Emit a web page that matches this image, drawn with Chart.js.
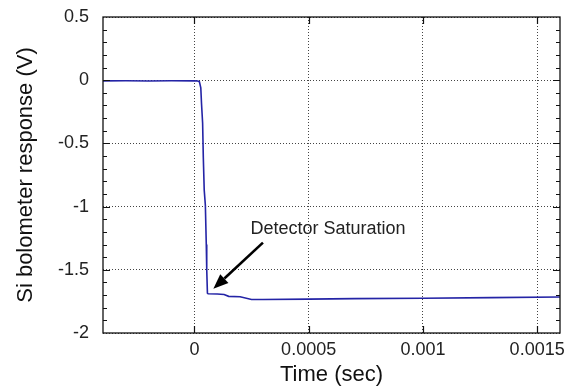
<!DOCTYPE html>
<html>
<head>
<meta charset="utf-8">
<script src="https://cdn.jsdelivr.net/npm/chart.js@4/dist/chart.umd.min.js"></script>
<style>
  html, body { margin: 0; padding: 0; background: #fff; }
  #wrap { width: 571px; height: 391px; }
</style>
</head>
<body>
<div id="wrap"><canvas id="c" width="571" height="391"></canvas></div>
<script>
// time (sec) and bolometer response (V)
const timeSec = [-0.0004, -0.0003, -0.0002, -0.0001, 0, 0.000015, 0.000022, 0.000028, 0.000031,
  0.000036, 0.000039, 0.000043, 0.000048, 0.000052, 0.000054, 0.000057, 0.00006, 0.0001,
  0.00013, 0.00015, 0.0002, 0.00025, 0.0003, 0.0005, 0.0007, 0.001, 0.0013, 0.0016];
const responseV = [-0.005, -0.004, -0.006, -0.004, -0.005, -0.006, -0.013, -0.06, -0.18,
  -0.34, -0.61, -0.87, -0.99, -1.30, -1.50, -1.685, -1.69, -1.692,
  -1.695, -1.71, -1.713, -1.735, -1.735, -1.732, -1.728, -1.725, -1.72, -1.715];

const xTicks = [0, 0.0005, 0.001, 0.0015];
const xTickLabels = ['0', '0.0005', '0.001', '0.0015'];
const yTicks = [-2, -1.5, -1, -0.5, 0, 0.5];
const yTickLabels = ['-2', '-1.5', '-1', '-0.5', '0', '0.5'];
const yMinorStep = 0.1;

// annotation: label and arrow in data coordinates
const noteText = 'Detector Saturation';
const noteAt = { x: 0.000245, y: -1.18 };
const arrowFrom = { x: 0.0003, y: -1.285 };
const arrowTo = { x: 0.000083, y: -1.65 };

const FONT = '"Liberation Sans", Arial, Helvetica, sans-serif';

const framePlugin = {
  id: 'frame',
  afterDatasetsDraw(chart) {
    const { ctx, chartArea: a, scales: { x, y } } = chart;
    ctx.save();
    ctx.strokeStyle = '#111';
    ctx.lineWidth = 1.3;
    ctx.strokeRect(a.left, a.top, a.right - a.left, a.bottom - a.top);

    // inward ticks
    ctx.lineWidth = 1.2;
    ctx.beginPath();
    xTicks.forEach(v => {
      const px = Math.round(x.getPixelForValue(v)) + 0.5;
      ctx.moveTo(px, a.bottom); ctx.lineTo(px, a.bottom - 7);
      ctx.moveTo(px, a.top); ctx.lineTo(px, a.top + 7);
    });
    const n = Math.round((yTicks[yTicks.length - 1] - yTicks[0]) / yMinorStep);
    for (let i = 1; i < n; i++) {
      const v = yTicks[0] + i * yMinorStep;
      const major = i % 5 === 0;
      const len = major ? 7 : 4;
      const py = Math.round(y.getPixelForValue(v)) + 0.5;
      ctx.moveTo(a.left, py); ctx.lineTo(a.left + len, py);
      ctx.moveTo(a.right, py); ctx.lineTo(a.right - len, py);
    }
    ctx.stroke();

    // annotation
    ctx.fillStyle = '#222';
    ctx.font = '18px ' + FONT;
    ctx.textBaseline = 'middle';
    ctx.fillText(noteText, x.getPixelForValue(noteAt.x), y.getPixelForValue(noteAt.y));

    const x1 = x.getPixelForValue(arrowFrom.x), y1 = y.getPixelForValue(arrowFrom.y);
    const x2 = x.getPixelForValue(arrowTo.x), y2 = y.getPixelForValue(arrowTo.y);
    const ang = Math.atan2(y2 - y1, x2 - x1);
    const head = 15, half = 6;
    const bx = x2 - head * Math.cos(ang), by = y2 - head * Math.sin(ang);
    ctx.strokeStyle = '#000';
    ctx.fillStyle = '#000';
    ctx.lineWidth = 2.6;
    ctx.beginPath();
    ctx.moveTo(x1, y1); ctx.lineTo(bx, by);
    ctx.stroke();
    ctx.beginPath();
    ctx.moveTo(x2, y2);
    ctx.lineTo(bx + half * Math.sin(ang), by - half * Math.cos(ang));
    ctx.lineTo(bx - half * Math.sin(ang), by + half * Math.cos(ang));
    ctx.closePath();
    ctx.fill();
    ctx.restore();
  }
};

new Chart(document.getElementById('c'), {
  type: 'line',
  data: {
    datasets: [{
      data: timeSec.map((t, i) => ({ x: t, y: responseV[i] })),
      borderColor: '#2424a6',
      borderWidth: 1.6,
      pointRadius: 0,
      tension: 0,
      fill: false
    }]
  },
  options: {
    responsive: false,
    animation: false,
    layout: { padding: { left: 0, right: 11, top: 17, bottom: 0 } },
    plugins: { legend: { display: false }, tooltip: { enabled: false } },
    scales: {
      x: {
        type: 'linear',
        min: -0.0004,
        max: 0.0016,
        afterBuildTicks: s => { s.ticks = xTicks.map(v => ({ value: v })); },
        afterFit: s => { s.height = 58; s.paddingLeft = 0; s.paddingRight = 0; },
        ticks: {
          autoSkip: false,
          maxRotation: 0,
          padding: 6,
          color: '#222',
          font: { family: FONT, size: 18 },
          callback: v => xTickLabels[xTicks.indexOf(v)] ?? ''
        },
        grid: { color: '#444', lineWidth: 1, drawTicks: false },
        border: { display: false, dash: [1, 2] },
        title: {
          display: true,
          text: 'Time (sec)',
          color: '#111',
          font: { family: FONT, size: 22 },
          padding: { top: 0, bottom: 3 }
        }
      },
      y: {
        min: -2,
        max: 0.5,
        afterBuildTicks: s => { s.ticks = yTicks.map(v => ({ value: v })); },
        afterFit: s => { s.width = 103; s.paddingTop = 0; s.paddingBottom = 0; },
        ticks: {
          autoSkip: false,
          padding: 14,
          color: '#222',
          font: { family: FONT, size: 18 },
          callback: v => yTickLabels[yTicks.indexOf(v)] ?? ''
        },
        grid: { color: '#444', lineWidth: 1, drawTicks: false },
        border: { display: false, dash: [1, 2] },
        title: {
          display: true,
          text: 'Si bolometer response (V)',
          color: '#111',
          font: { family: FONT, size: 22 },
          padding: { top: 13, bottom: 0 }
        }
      }
    }
  },
  plugins: [framePlugin]
});
</script>
</body>
</html>
